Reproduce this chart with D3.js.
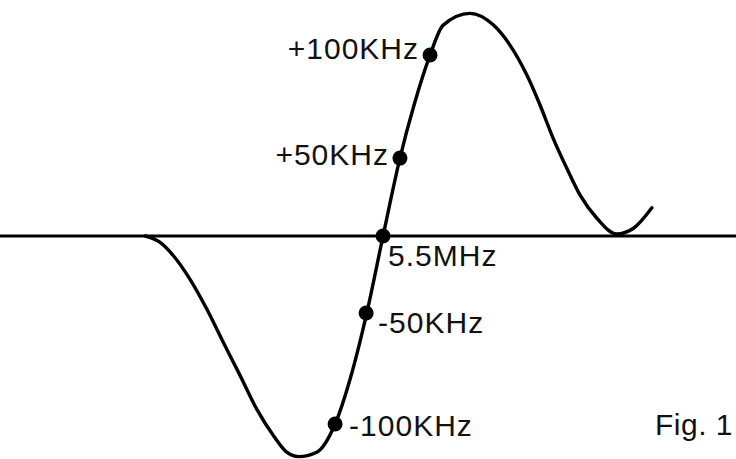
<!DOCTYPE html>
<html>
<head>
<meta charset="utf-8">
<script src="https://cdn.jsdelivr.net/npm/d3@7"></script>
<style>
  html, body { margin: 0; padding: 0; background: #fff; }
  svg { display: block; }
  text { font-family: "Liberation Sans", Arial, Helvetica, sans-serif; fill: #111; }
</style>
</head>
<body>
<svg id="chart" width="736" height="459"></svg>
<script>
// Frequency offset from 5.5 MHz centre (kHz, approximate as drawn)
const curveFreq = [-506, -475, -446, -411, -375, -340, -304, -269, -233, -205, -180, -141, -102, -70, -35, 0, 36, 66, 100, 128, 185, 235, 270, 306, 334, 362, 391, 419, 455, 497, 533, 572];
// Discriminator output (normalised)
const curveOut  = [0, -0.028, -0.089, -0.194, -0.329, -0.479, -0.629, -0.779, -0.900, -0.974, -0.994, -0.974, -0.847, -0.644, -0.351, 0, 0.351, 0.590, 0.815, 0.950, 1.003, 0.950, 0.860, 0.725, 0.590, 0.440, 0.305, 0.185, 0.080, 0.009, 0.035, 0.127];

// Marked points on the curve
const markerLabels = ["+100KHz", "+50KHz", "5.5MHz", "-50KHz", "-100KHz"];
const markerFreq   = [100, 36, 0, -36, -102];
const markerOut    = [0.815, 0.351, 0, -0.347, -0.847];

const figureLabel = "Fig. 1";

const W = 736, H = 459;
const svg = d3.select("#chart");

const x = d3.scaleLinear().domain([-815, 751]).range([0, W]);
const y = d3.scaleLinear().domain([-1, 1]).range([458, 14]);

// Horizontal axis line (zero output)
svg.append("line")
  .attr("x1", x(-815)).attr("x2", x(751))
  .attr("y1", y(0)).attr("y2", y(0))
  .attr("stroke", "#000").attr("stroke-width", 3);

// S-curve
const pts = curveFreq.map((f, i) => [f, curveOut[i]]);
const line = d3.line()
  .x(d => x(d[0])).y(d => y(d[1]))
  .curve(d3.curveMonotoneX);
svg.append("path")
  .attr("d", line(pts))
  .attr("fill", "none")
  .attr("stroke", "#000")
  .attr("stroke-width", 3.4)
  .attr("stroke-linecap", "round");

// Marker dots
const markers = markerLabels.map((l, i) => ({ label: l, f: markerFreq[i], v: markerOut[i] }));
svg.selectAll("circle.m").data(markers).join("circle")
  .attr("class", "m")
  .attr("cx", d => x(d.f)).attr("cy", d => y(d.v))
  .attr("r", 7.5).attr("fill", "#000");

// Label placement (style only)
const place = {
  "+100KHz": { anchor: "end",   dx: -11, dy: 4 },
  "+50KHz":  { anchor: "end",   dx: -11, dy: 7 },
  "5.5MHz":  { anchor: "start", dx: 5,   dy: 30 },
  "-50KHz":  { anchor: "start", dx: 12,  dy: 20 },
  "-100KHz": { anchor: "start", dx: 14,  dy: 12 }
};
svg.selectAll("text.m").data(markers).join("text")
  .attr("class", "m")
  .attr("x", d => x(d.f) + place[d.label].dx)
  .attr("y", d => y(d.v) + place[d.label].dy)
  .attr("text-anchor", d => place[d.label].anchor)
  .attr("font-size", 30)
  .attr("letter-spacing", 1)
  .text(d => d.label);

svg.append("text")
  .attr("x", 733).attr("y", 435)
  .attr("text-anchor", "end")
  .attr("font-size", 30)
  .attr("letter-spacing", 0.5)
  .text(figureLabel);
</script>
</body>
</html>
